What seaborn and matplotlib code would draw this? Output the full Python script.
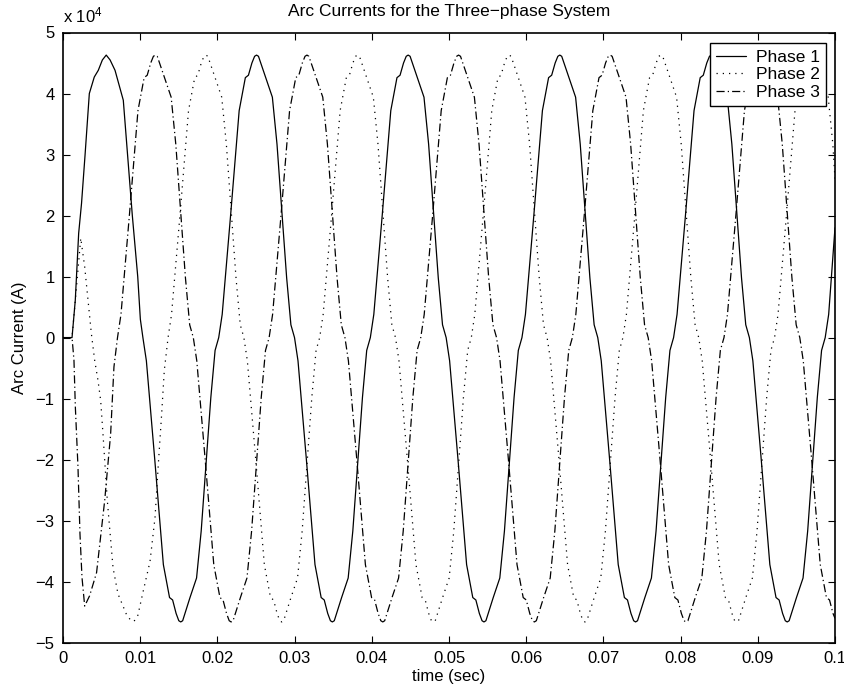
import numpy as np
import pandas as pd
import matplotlib
matplotlib.use("Agg")
import matplotlib.pyplot as plt
import seaborn as sns

# Arc current samples: time in milliseconds, current in units of 1e4 A
phase1_ms = [
    0.00, 1.17, 1.59, 2.03, 2.40, 2.85, 3.41, 4.05, 4.57, 5.10, 5.60, 6.10, 6.74, 7.16, 7.81, 8.38, 8.98, 9.68, 10.02,
    10.35, 10.80, 11.90, 13.00, 13.80, 14.20, 14.65, 15.00, 15.25, 15.50, 15.85, 16.45, 17.30, 17.90, 18.55, 19.15, 19.70,
    20.17, 20.62, 21.72, 22.82, 23.62, 24.02, 24.47, 24.82, 25.07, 25.32, 25.67, 26.27, 27.12, 27.72, 28.37, 28.97, 29.52,
    29.99, 30.44, 31.54, 32.64, 33.44, 33.84, 34.29, 34.64, 34.89, 35.14, 35.49, 36.09, 36.94, 37.54, 38.19, 38.79, 39.34,
    39.81, 40.26, 41.36, 42.46, 43.26, 43.66, 44.11, 44.46, 44.71, 44.96, 45.31, 45.91, 46.76, 47.36, 48.01, 48.61, 49.16,
    49.63, 50.08, 51.18, 52.28, 53.08, 53.48, 53.93, 54.28, 54.53, 54.78, 55.13, 55.73, 56.58, 57.18, 57.83, 58.43, 58.98,
    59.45, 59.90, 61.00, 62.10, 62.90, 63.30, 63.75, 64.10, 64.35, 64.60, 64.95, 65.55, 66.40, 67.00, 67.65, 68.25, 68.80,
    69.27, 69.72, 70.82, 71.92, 72.72, 73.12, 73.57, 73.92, 74.17, 74.42, 74.77, 75.37, 76.22, 76.82, 77.47, 78.07, 78.62,
    79.09, 79.54, 80.64, 81.74, 82.54, 82.94, 83.39, 83.74, 83.99, 84.24, 84.59, 85.19, 86.04, 86.64, 87.29, 87.89, 88.44,
    88.91, 89.36, 90.46, 91.56, 92.36, 92.76, 93.21, 93.56, 93.81, 94.06, 94.41, 95.01, 95.86, 96.46, 97.11, 97.71, 98.26,
    98.73, 99.18, 100.00,
]
phase1_amp = [
    0.00, 0.00, 0.61, 1.71, 2.20, 2.98, 4.00, 4.27, 4.38, 4.55, 4.63, 4.55, 4.38, 4.19, 3.89, 2.98, 2.00, 1.00, 0.30,
    0.00, -0.38, -2.02, -3.72, -4.26, -4.30, -4.52, -4.64, -4.66, -4.64, -4.50, -4.26, -3.94, -3.17, -2.02, -0.98, -0.21,
    0.00, 0.38, 2.02, 3.72, 4.26, 4.30, 4.50, 4.61, 4.63, 4.61, 4.48, 4.26, 3.94, 3.17, 2.02, 0.98, 0.21,
    0.00, -0.38, -2.02, -3.72, -4.26, -4.30, -4.52, -4.64, -4.66, -4.64, -4.50, -4.26, -3.94, -3.17, -2.02, -0.98, -0.21,
    0.00, 0.38, 2.02, 3.72, 4.26, 4.30, 4.50, 4.61, 4.63, 4.61, 4.48, 4.26, 3.94, 3.17, 2.02, 0.98, 0.21,
    0.00, -0.38, -2.02, -3.72, -4.26, -4.30, -4.52, -4.64, -4.66, -4.64, -4.50, -4.26, -3.94, -3.17, -2.02, -0.98, -0.21,
    0.00, 0.38, 2.02, 3.72, 4.26, 4.30, 4.50, 4.61, 4.63, 4.61, 4.48, 4.26, 3.94, 3.17, 2.02, 0.98, 0.21,
    0.00, -0.38, -2.02, -3.72, -4.26, -4.30, -4.52, -4.64, -4.66, -4.64, -4.50, -4.26, -3.94, -3.17, -2.02, -0.98, -0.21,
    0.00, 0.38, 2.02, 3.72, 4.26, 4.30, 4.50, 4.61, 4.63, 4.61, 4.48, 4.26, 3.94, 3.17, 2.02, 0.98, 0.21,
    0.00, -0.38, -2.02, -3.72, -4.26, -4.30, -4.52, -4.64, -4.66, -4.64, -4.50, -4.26, -3.94, -3.17, -2.02, -0.98, -0.21,
    0.00, 0.38, 1.80,
]

phase2_ms = [
    0.00, 1.17, 2.30, 2.81, 3.24, 3.67, 4.10, 4.53, 4.88, 5.18, 5.74, 6.48, 7.12, 8.20, 8.75, 9.20,
    9.70, 10.40, 11.27, 11.92, 12.35, 12.78, 13.12,
    13.61, 14.06, 15.16, 16.26, 17.06, 17.46, 17.91, 18.26, 18.51, 18.76, 19.11, 19.71, 20.56, 21.16, 21.81, 22.41, 22.96,
    23.43, 23.88, 24.98, 26.08, 26.88, 27.28, 27.73, 28.08, 28.33, 28.58, 28.93, 29.53, 30.38, 30.98, 31.63, 32.23, 32.78,
    33.25, 33.70, 34.80, 35.90, 36.70, 37.10, 37.55, 37.90, 38.15, 38.40, 38.75, 39.35, 40.20, 40.80, 41.45, 42.05, 42.60,
    43.07, 43.52, 44.62, 45.72, 46.52, 46.92, 47.37, 47.72, 47.97, 48.22, 48.57, 49.17, 50.02, 50.62, 51.27, 51.87, 52.42,
    52.89, 53.34, 54.44, 55.54, 56.34, 56.74, 57.19, 57.54, 57.79, 58.04, 58.39, 58.99, 59.84, 60.44, 61.09, 61.69, 62.24,
    62.71, 63.16, 64.26, 65.36, 66.16, 66.56, 67.01, 67.36, 67.61, 67.86, 68.21, 68.81, 69.66, 70.26, 70.91, 71.51, 72.06,
    72.53, 72.98, 74.08, 75.18, 75.98, 76.38, 76.83, 77.18, 77.43, 77.68, 78.03, 78.63, 79.48, 80.08, 80.73, 81.33, 81.88,
    82.35, 82.80, 83.90, 85.00, 85.80, 86.20, 86.65, 87.00, 87.25, 87.50, 87.85, 88.45, 89.30, 89.90, 90.55, 91.15, 91.70,
    92.17, 92.62, 93.72, 94.82, 95.62, 96.02, 96.47, 96.82, 97.07, 97.32, 97.67, 98.27, 99.12, 99.72, 100.00,
]
phase2_amp = [
    0.00, 0.00, 1.63, 1.16, 0.61, 0.07, -0.37, -0.70, -1.03, -1.58, -2.67, -3.77, -4.20, -4.53, -4.63, -4.65,
    -4.55, -4.15, -3.67, -2.95, -2.07, -1.25, -0.54,
    0.00, 0.38, 2.02, 3.72, 4.26, 4.30, 4.50, 4.61, 4.63, 4.61, 4.48, 4.26, 3.94, 3.17, 2.02, 0.98, 0.21,
    0.00, -0.38, -2.02, -3.72, -4.26, -4.30, -4.52, -4.64, -4.66, -4.64, -4.50, -4.26, -3.94, -3.17, -2.02, -0.98, -0.21,
    0.00, 0.38, 2.02, 3.72, 4.26, 4.30, 4.50, 4.61, 4.63, 4.61, 4.48, 4.26, 3.94, 3.17, 2.02, 0.98, 0.21,
    0.00, -0.38, -2.02, -3.72, -4.26, -4.30, -4.52, -4.64, -4.66, -4.64, -4.50, -4.26, -3.94, -3.17, -2.02, -0.98, -0.21,
    0.00, 0.38, 2.02, 3.72, 4.26, 4.30, 4.50, 4.61, 4.63, 4.61, 4.48, 4.26, 3.94, 3.17, 2.02, 0.98, 0.21,
    0.00, -0.38, -2.02, -3.72, -4.26, -4.30, -4.52, -4.64, -4.66, -4.64, -4.50, -4.26, -3.94, -3.17, -2.02, -0.98, -0.21,
    0.00, 0.38, 2.02, 3.72, 4.26, 4.30, 4.50, 4.61, 4.63, 4.61, 4.48, 4.26, 3.94, 3.17, 2.02, 0.98, 0.21,
    0.00, -0.38, -2.02, -3.72, -4.26, -4.30, -4.52, -4.64, -4.66, -4.64, -4.50, -4.26, -3.94, -3.17, -2.02, -0.98, -0.21,
    0.00, 0.38, 2.02, 3.72, 4.26, 4.30, 4.50, 4.61, 4.63, 4.61, 4.48, 4.26, 3.94, 3.17, 2.60,
]

phase3_ms = [
    0.00, 1.17, 1.42, 1.60, 1.94, 2.20, 2.46, 2.81, 3.45, 4.35, 5.40, 6.17, 6.60,
    7.06, 7.51, 8.61, 9.71, 10.51, 10.91, 11.36, 11.71, 11.96, 12.21, 12.56, 13.16, 14.01, 14.61, 15.26, 15.86, 16.41,
    16.88, 17.33, 18.43, 19.53, 20.33, 20.73, 21.18, 21.53, 21.78, 22.03, 22.38, 22.98, 23.83, 24.43, 25.08, 25.68, 26.23,
    26.70, 27.15, 28.25, 29.35, 30.15, 30.55, 31.00, 31.35, 31.60, 31.85, 32.20, 32.80, 33.65, 34.25, 34.90, 35.50, 36.05,
    36.52, 36.97, 38.07, 39.17, 39.97, 40.37, 40.82, 41.17, 41.42, 41.67, 42.02, 42.62, 43.47, 44.07, 44.72, 45.32, 45.87,
    46.34, 46.79, 47.89, 48.99, 49.79, 50.19, 50.64, 50.99, 51.24, 51.49, 51.84, 52.44, 53.29, 53.89, 54.54, 55.14, 55.69,
    56.16, 56.61, 57.71, 58.81, 59.61, 60.01, 60.46, 60.81, 61.06, 61.31, 61.66, 62.26, 63.11, 63.71, 64.36, 64.96, 65.51,
    65.98, 66.43, 67.53, 68.63, 69.43, 69.83, 70.28, 70.63, 70.88, 71.13, 71.48, 72.08, 72.93, 73.53, 74.18, 74.78, 75.33,
    75.80, 76.25, 77.35, 78.45, 79.25, 79.65, 80.10, 80.45, 80.70, 80.95, 81.30, 81.90, 82.75, 83.35, 84.00, 84.60, 85.15,
    85.62, 86.07, 87.17, 88.27, 89.07, 89.47, 89.92, 90.27, 90.52, 90.77, 91.12, 91.72, 92.57, 93.17, 93.82, 94.42, 94.97,
    95.44, 95.89, 96.99, 98.09, 98.89, 99.29, 99.74, 100.00,
]
phase3_amp = [
    0.00, 0.00, -0.37, -1.14, -2.12, -3.22, -3.93, -4.40, -4.23, -3.85, -2.67, -1.58, -0.48,
    0.00, 0.38, 2.02, 3.72, 4.26, 4.30, 4.50, 4.61, 4.63, 4.61, 4.48, 4.26, 3.94, 3.17, 2.02, 0.98, 0.21,
    0.00, -0.38, -2.02, -3.72, -4.26, -4.30, -4.52, -4.64, -4.66, -4.64, -4.50, -4.26, -3.94, -3.17, -2.02, -0.98, -0.21,
    0.00, 0.38, 2.02, 3.72, 4.26, 4.30, 4.50, 4.61, 4.63, 4.61, 4.48, 4.26, 3.94, 3.17, 2.02, 0.98, 0.21,
    0.00, -0.38, -2.02, -3.72, -4.26, -4.30, -4.52, -4.64, -4.66, -4.64, -4.50, -4.26, -3.94, -3.17, -2.02, -0.98, -0.21,
    0.00, 0.38, 2.02, 3.72, 4.26, 4.30, 4.50, 4.61, 4.63, 4.61, 4.48, 4.26, 3.94, 3.17, 2.02, 0.98, 0.21,
    0.00, -0.38, -2.02, -3.72, -4.26, -4.30, -4.52, -4.64, -4.66, -4.64, -4.50, -4.26, -3.94, -3.17, -2.02, -0.98, -0.21,
    0.00, 0.38, 2.02, 3.72, 4.26, 4.30, 4.50, 4.61, 4.63, 4.61, 4.48, 4.26, 3.94, 3.17, 2.02, 0.98, 0.21,
    0.00, -0.38, -2.02, -3.72, -4.26, -4.30, -4.52, -4.64, -4.66, -4.64, -4.50, -4.26, -3.94, -3.17, -2.02, -0.98, -0.21,
    0.00, 0.38, 2.02, 3.72, 4.26, 4.30, 4.50, 4.61, 4.63, 4.61, 4.48, 4.26, 3.94, 3.17, 2.02, 0.98, 0.21,
    0.00, -0.38, -2.02, -3.72, -4.26, -4.30, -4.52, -4.60,
]

phase_names = ["Phase 1", "Phase 2", "Phase 3"]
x_ticks = [0, 0.01, 0.02, 0.03, 0.04, 0.05, 0.06, 0.07, 0.08, 0.09, 0.1]
x_tick_labels = ["0", "0.01", "0.02", "0.03", "0.04", "0.05", "0.06", "0.07", "0.08", "0.09", "0.1"]
y_ticks = [-5, -4, -3, -2, -1, 0, 1, 2, 3, 4, 5]

series = [(phase_names[0], phase1_ms, phase1_amp),
          (phase_names[1], phase2_ms, phase2_amp),
          (phase_names[2], phase3_ms, phase3_amp)]
frames = []
for name, ms, amp in series:
    assert len(ms) == len(amp), name
    frames.append(pd.DataFrame({"time": np.asarray(ms) / 1000.0,
                                "current": amp,
                                "phase": name}))
df = pd.concat(frames, ignore_index=True)

sns.set_style("ticks", {
    "axes.edgecolor": "black", "xtick.color": "black", "ytick.color": "black",
    "text.color": "black", "axes.labelcolor": "black",
    "xtick.direction": "in", "ytick.direction": "in",
})
plt.rcParams["font.family"] = ["Liberation Sans", "DejaVu Sans"]
plt.rcParams["mathtext.default"] = "regular"

fig = plt.figure(figsize=(8.45, 6.88), dpi=100)
ax = fig.add_axes([63 / 845, 1 - 642.7 / 688, 772 / 845, 610.2 / 688])

sns.lineplot(data=df, x="time", y="current", style="phase",
             style_order=phase_names,
             dashes={"Phase 1": "", "Phase 2": (1, 4), "Phase 3": (6.5, 2.5, 1, 2.5)},
             color="black", lw=0.9, estimator=None, sort=False, ax=ax)

ax.set_xlim(0, 0.1)
ax.set_ylim(-5, 5)
ax.set_xticks(x_ticks)
ax.set_xticklabels(x_tick_labels)
ax.set_yticks(y_ticks)
ax.tick_params(direction="in", top=True, right=True, length=4.8, width=0.8,
               labelsize=12, pad=6, colors="black")
for sp in ax.spines.values():
    sp.set_linewidth(1.2)
    sp.set_color("black")

ax.set_xlabel("time (sec)", fontsize=12, labelpad=2)
ax.set_ylabel("Arc Current (A)", fontsize=12, labelpad=6)
ax.set_title("Arc Currents for the Three\u2212phase System", fontsize=12.5, pad=12)
ax.text(0.0, 1.012, "x 10$^{4}$", transform=ax.transAxes, fontsize=12,
        ha="left", va="bottom")

handles, labels = ax.get_legend_handles_labels()
pairs = [(h, l) for h, l in zip(handles, labels) if l in phase_names]
leg = ax.legend([p[0] for p in pairs], [p[1] for p in pairs],
                loc="upper right", bbox_to_anchor=(0.988, 0.982), borderaxespad=0,
                frameon=True, fancybox=False, edgecolor="black", framealpha=1,
                fontsize=12.5, handlelength=1.75, handletextpad=0.55,
                labelspacing=0.15, borderpad=0.35)
leg.get_frame().set_linewidth(1.0)

fig.savefig("out.png", dpi=100)
